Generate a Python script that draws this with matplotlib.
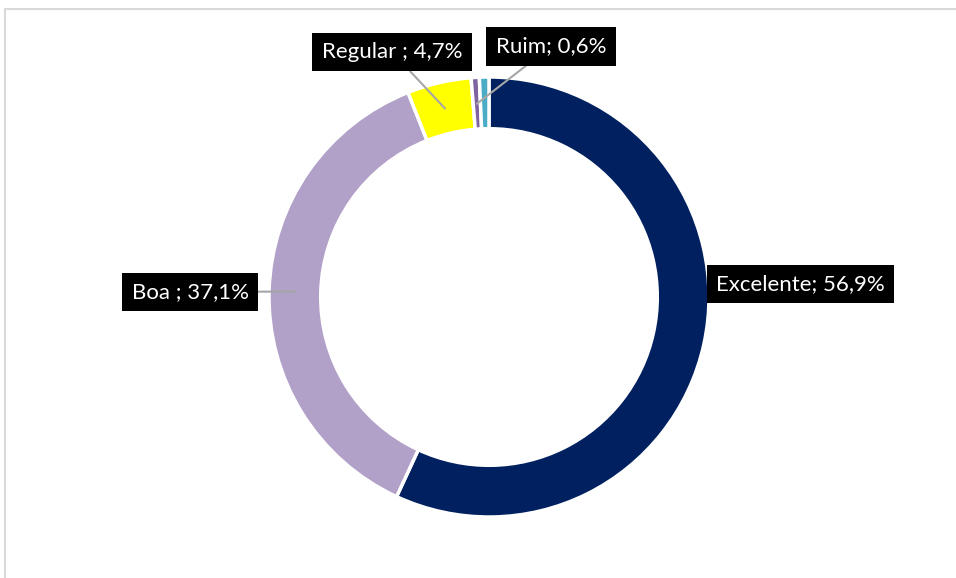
import numpy as np
import matplotlib.pyplot as plt
from matplotlib.lines import Line2D

plt.rcParams['font.family'] = ['Lato', 'DejaVu Sans']

categorias = ['Excelente', 'Boa', 'Regular', 'Ruim', 'Péssima']
valores = [56.9, 37.1, 4.7, 0.6, 0.7]
rotulos = ['Excelente; 56,9%', 'Boa ; 37,1%', 'Regular ; 4,7%', 'Ruim; 0,6%', None]
cores = ['#002060', '#B1A0C7', '#FFFF00', '#8064A2', '#4BACC6']

# label box centres (data units, ring outer radius = 1) and whether a leader is drawn
pos_rotulos = [(1.416, 0.059), (-1.359, 0.023), (-0.441, 1.114), (0.282, 1.139), None]
com_linha = [False, True, True, True, False]

W, H = 956, 578
cx, cy, R = 489, 297, 220

fig = plt.figure(figsize=(W / 100, H / 100), dpi=100)
ax = fig.add_axes([(cx - R) / W, (H - cy - R) / H, 2 * R / W, 2 * R / H])

wedges, _ = ax.pie(valores, colors=cores, startangle=90, counterclock=False,
                   radius=1.0,
                   wedgeprops=dict(width=0.235, edgecolor='white', linewidth=2.5))
ax.set_xlim(-1, 1)
ax.set_ylim(-1, 1)
ax.set_aspect('equal')
ax.axis('off')

total = sum(valores)
acum = np.cumsum([0] + valores[:-1])
for i, rot in enumerate(rotulos):
    if rot is None:
        continue
    meio = 90 - 360 * (acum[i] + valores[i] / 2) / total
    ancora = (0.88 * np.cos(np.radians(meio)), 0.88 * np.sin(np.radians(meio)))
    tx, ty = pos_rotulos[i]
    caixa = dict(boxstyle='square,pad=0.42', facecolor='black', edgecolor='none')
    if com_linha[i]:
        ax.annotate(rot, xy=ancora, xytext=(tx, ty), ha='center', va='center',
                    color='white', fontsize=16, bbox=caixa,
                    annotation_clip=False,
                    arrowprops=dict(arrowstyle='-', color='#A6A6A6', lw=1.5,
                                    shrinkA=0, shrinkB=0))
    else:
        ax.text(tx, ty, rot, ha='center', va='center', color='white',
                fontsize=16, bbox=caixa, clip_on=False)

# chart area border (top and left edges visible)
fig.add_artist(Line2D([5 / W, 1], [1 - 9 / H, 1 - 9 / H], color='#D9D9D9', lw=1.5))
fig.add_artist(Line2D([5 / W, 5 / W], [0, 1 - 9 / H], color='#D9D9D9', lw=1.5))

fig.savefig('out.png', dpi=100)
